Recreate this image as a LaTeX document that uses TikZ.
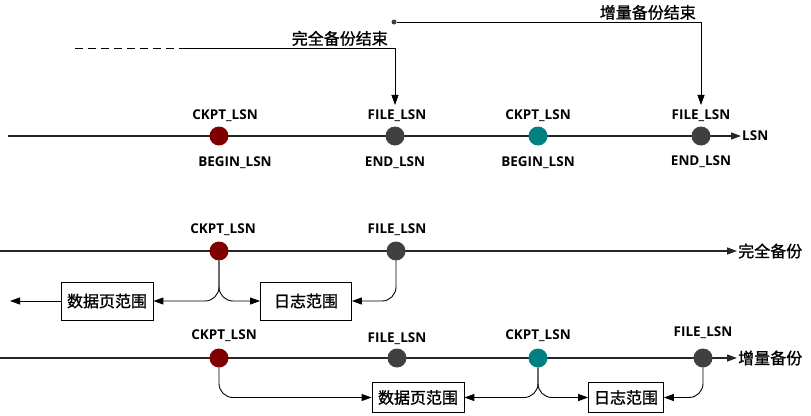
\documentclass[tikz,border=0pt]{standalone}
\usepackage{fontspec}
\setmainfont{Open Sans}
\newfontfamily\cjk[FakeBold=1.2]{Noto Sans CJK SC}
\usetikzlibrary{arrows.meta, positioning}
\definecolor{ckred}{RGB}{128,0,0}
\definecolor{ckteal}{RGB}{0,128,128}
\definecolor{fdark}{RGB}{64,64,64}

\begin{document}
\begin{tikzpicture}[x=1pt, y=-1pt, >={Triangle[length=10pt,width=7pt]},
    lsn/.style={font=\fontsize{13.5}{15}\selectfont\bfseries, inner sep=1pt},
    zh/.style={font=\cjk\fontsize{16}{18}\selectfont, inner sep=1pt},
    dot/.style={circle, inner sep=0pt, minimum size=19pt},
    rng/.style={draw, line width=0.8pt, font=\cjk\fontsize{16}{18}\selectfont, inner sep=2pt},
    axis/.style={line width=1.3pt, draw=black!85, ->},
    link/.style={line width=0.9pt, ->, rounded corners=14pt}]
\useasboundingbox (0,0) rectangle (811,415);

% top time line
\node[lsn, anchor=west] (lsnT) at (741,136) {LSN};
\coordinate (top0) at (8,136);
\draw[axis] (top0) -- (lsnT.west);
\node[dot, fill=ckred]  (ckptT1) at (219,136) {};
\node[dot, fill=fdark]  (fileT1) at (395,136) {};
\node[dot, fill=ckteal] (ckptT2) at (538,136) {};
\node[dot, fill=fdark]  (fileT2) at (701,136) {};
\node[lsn, above=3pt of ckptT1, xshift=6pt] {CKPT\_LSN};
\node[lsn, below=10pt of ckptT1, xshift=16pt] {BEGIN\_LSN};
\node[lsn, above=3pt of fileT1, xshift=2pt] (fileT1lab) {FILE\_LSN};
\node[lsn, below=10pt of fileT1] {END\_LSN};
\node[lsn, above=3pt of ckptT2] {CKPT\_LSN};
\node[lsn, below=10pt of ckptT2] {BEGIN\_LSN};
\node[lsn, above=3pt of fileT2] (fileT2lab) {FILE\_LSN};
\node[lsn, below=9pt of fileT2] {END\_LSN};

% end of backups
\coordinate (fullDash) at (75,48);
\coordinate (fullLine) at (180,48);
\node[circle, fill=fdark, inner sep=0pt, minimum size=5pt] (incrDot) at (394,22) {};
\draw[line width=0.8pt, dash pattern=on 8pt off 5pt] (fullDash) -- (fullLine);
\draw[line width=0.8pt, ->] (fullLine) -| ([xshift=-2pt, yshift=4pt]fileT1lab.north);
\draw[line width=0.8pt, ->] (incrDot) -| ([yshift=4pt]fileT2lab.north);
\node[zh, anchor=south east] at (389,47) {完全备份结束};
\node[zh, anchor=south east] at (697,21) {增量备份结束};

% full backup
\node[zh, anchor=west] (fullM) at (737,251) {完全备份};
\coordinate (mid0) at (0,251);
\coordinate (mid9) at (10,301);
\draw[axis] (mid0) -- (fullM.west);
\node[dot, fill=ckred] (ckptM) at (219,251) {};
\node[dot, fill=fdark] (fileM) at (396,251) {};
\node[lsn, above=4pt of ckptM, xshift=4pt] {CKPT\_LSN};
\node[lsn, above=4pt of fileM, xshift=1pt] {FILE\_LSN};
\node[rng, minimum width=92pt, minimum height=38pt] (pageM) at (107,301) {数据页范围};
\node[rng, minimum width=91pt, minimum height=38pt] (logM) at (306,301) {日志范围};
\draw[link] (ckptM.south) |- (pageM.east);
\draw[link] (ckptM.south) |- (logM.west);
\draw[link] (fileM.south) |- (logM.east);
\draw[line width=0.9pt, ->] (pageM.west) -- (mid9);

% incremental backup
\node[zh, anchor=west] (incrB) at (737,358) {增量备份};
\coordinate (bot0) at (0,358);
\draw[axis] (bot0) -- (incrB.west);
\node[dot, fill=ckred]  (ckptB1) at (219,358) {};
\node[dot, fill=fdark]  (fileB1) at (397,358) {};
\node[dot, fill=ckteal] (ckptB2) at (538,358) {};
\node[dot, fill=fdark]  (fileB2) at (703,358) {};
\node[lsn, above=5pt of ckptB1, xshift=5pt] {CKPT\_LSN};
\node[lsn, above=2pt of fileB1] {FILE\_LSN};
\node[lsn, above=5pt of ckptB2] {CKPT\_LSN};
\node[lsn, above=8pt of fileB2] {FILE\_LSN};
\node[rng, minimum width=92pt, minimum height=30pt] (pageB) at (418,397.5) {数据页范围};
\node[rng, minimum width=75pt, minimum height=30pt] (logB) at (626,397.5) {日志范围};
\draw[link] (ckptB1.south) |- (pageB.west);
\draw[link] (ckptB2.south) |- (pageB.east);
\draw[link] (ckptB2.south) |- (logB.west);
\draw[link] (fileB2.south) |- (logB.east);
\end{tikzpicture}
\end{document}
